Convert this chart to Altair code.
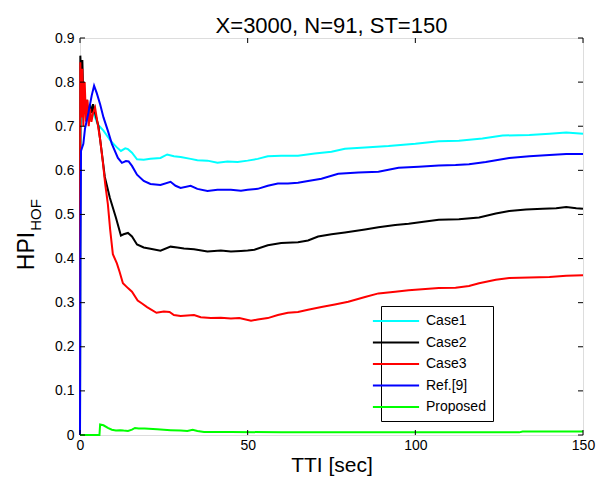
import altair as alt
import pandas as pd

# ---------------- data ----------------
names = ["Case1", "Case2", "Case3", " Ref.[9]", "Proposed"]
colors = ["#00FFFF", "#000000", "#FF0000", "#0000FF", "#00FF00"]

tti_case1 = [0, 0.2, 0.6, 0.9, 1.5, 2.2, 3.0, 4.0, 5.3, 7, 9.2, 11, 12.2, 13.5, 14.3, 15.5, 17, 19, 21, 24,
             26, 28, 30, 33, 35, 38, 41, 44, 47, 50, 53, 56, 60, 65, 70, 75, 79, 85, 92, 100,
             107, 113, 120, 126, 134, 140, 145, 148, 150]
val_case1 = [0, 0.70, 0.72, 0.718, 0.756, 0.73, 0.745, 0.73, 0.704, 0.69, 0.666, 0.652, 0.644, 0.65, 0.648, 0.64, 0.625, 0.624, 0.626, 0.628,
             0.636, 0.632, 0.63, 0.626, 0.623, 0.622, 0.617, 0.62, 0.619, 0.622, 0.626, 0.632, 0.633, 0.633, 0.638, 0.642, 0.649, 0.652, 0.655, 0.66,
             0.666, 0.667, 0.672, 0.679, 0.68, 0.683, 0.686, 0.684, 0.683]

tti_case2 = [0, 0.1, 0.4, 0.7, 1.0, 1.3, 1.7, 2.1, 2.5, 3.0, 3.5, 3.9, 4.5, 5.5, 6.5, 7.4, 8.9, 10.7, 12.2, 13,
             14.3, 15.5, 17, 19, 21, 24, 27, 29, 31, 34, 38, 42, 45, 48, 50, 52, 56, 60, 65, 68,
             71, 75, 79, 85, 89, 94, 98, 103, 107, 113, 119, 124, 128, 133, 138, 142, 145, 148, 150]
val_case2 = [0, 0.86, 0.80, 0.85, 0.76, 0.78, 0.73, 0.76, 0.72, 0.75, 0.73, 0.75, 0.73, 0.70, 0.64, 0.585, 0.538, 0.493, 0.452, 0.455,
             0.458, 0.45, 0.432, 0.425, 0.422, 0.418, 0.427, 0.425, 0.423, 0.421, 0.416, 0.418, 0.416, 0.417, 0.418, 0.42, 0.43, 0.435, 0.437, 0.441,
             0.45, 0.455, 0.459, 0.466, 0.471, 0.476, 0.479, 0.484, 0.488, 0.489, 0.493, 0.502, 0.508, 0.511, 0.513, 0.514, 0.517, 0.514, 0.513]

tti_case3 = [0, 0.1, 0.4, 0.7, 1.0, 1.4, 1.8, 2.2, 2.6, 3.0, 3.4, 3.9, 4.5, 5.3, 6.0, 6.8, 7.5, 8.3, 9.0, 9.8,
             11.0, 11.8, 12.8, 14.3, 15.5, 17.2, 18.5, 20, 22.8, 25, 26.7, 28, 30, 32, 34, 36, 39, 42, 45, 47.5,
             51, 53, 56, 59, 62, 65, 68, 72, 76, 80, 85, 89, 94, 98, 103, 107, 112, 116, 119, 124,
             128, 134, 140, 145, 150]
val_case3 = [0, 0.845, 0.72, 0.83, 0.70, 0.80, 0.71, 0.76, 0.70, 0.74, 0.71, 0.73, 0.742, 0.704, 0.67, 0.62, 0.57, 0.524, 0.465, 0.41,
             0.389, 0.37, 0.344, 0.333, 0.325, 0.305, 0.298, 0.29, 0.277, 0.28, 0.279, 0.272, 0.27, 0.271, 0.272, 0.267, 0.265, 0.266, 0.264, 0.265,
             0.259, 0.262, 0.265, 0.272, 0.277, 0.279, 0.284, 0.29, 0.296, 0.302, 0.313, 0.321, 0.325, 0.328, 0.331, 0.333, 0.334, 0.338, 0.344, 0.352,
             0.356, 0.357, 0.358, 0.361, 0.362]

tti_ref9 = [0, 0.1, 0.3, 1.0, 1.5, 2.5, 3.5, 4.2, 5, 6, 7, 8.3, 9.5, 11.3, 12.5, 13.7, 14.5, 15.5, 17, 19,
            21, 24, 27, 28.5, 30, 33, 35, 38, 41, 45, 48, 50, 53, 56, 59, 62, 65, 68, 72, 77,
            83, 89, 95, 101, 107, 112, 116, 121, 128, 134, 140, 145, 150]
val_ref9 = [0, 0.39, 0.644, 0.66, 0.695, 0.73, 0.77, 0.792, 0.775, 0.75, 0.72, 0.69, 0.66, 0.628, 0.617, 0.621, 0.62, 0.61, 0.59, 0.576,
            0.569, 0.567, 0.574, 0.565, 0.56, 0.565, 0.558, 0.553, 0.556, 0.556, 0.554, 0.556, 0.558, 0.565, 0.57, 0.57, 0.572, 0.576, 0.581, 0.592,
            0.595, 0.597, 0.606, 0.608, 0.611, 0.612, 0.614, 0.619, 0.628, 0.632, 0.635, 0.637, 0.637]

tti_prop = [0, 5.8, 6.0, 7, 8.3, 9.5, 10.7, 12, 13, 14.3, 15.5, 16.4, 17.5, 19.3, 23, 27, 30, 32, 33.6, 35,
            37, 45, 60, 80, 100, 120, 131, 132, 150]
val_prop = [0, 0, 0.024, 0.022, 0.016, 0.012, 0.01, 0.011, 0.01, 0.009, 0.012, 0.016, 0.015, 0.015, 0.013, 0.011, 0.01, 0.009, 0.012, 0.009,
            0.007, 0.007, 0.006, 0.006, 0.006, 0.006, 0.006, 0.008, 0.008]

x_ticks = [0, 50, 100, 150]
y_ticks = [0, 0.1, 0.2, 0.3, 0.4, 0.5, 0.6, 0.7, 0.8, 0.9]

title_text = "X=3000, N=91, ST=150"
x_title = "TTI [sec]"

# ---------------- table ----------------
rows = []
for name, xs, ys in zip(names,
                        [tti_case1, tti_case2, tti_case3, tti_ref9, tti_prop],
                        [val_case1, val_case2, val_case3, val_ref9, val_prop]):
    for i, (xv, yv) in enumerate(zip(xs, ys)):
        rows.append({"series": name, "tti": xv, "hpi": yv, "idx": i})
df = pd.DataFrame(rows)

W, H = 503, 397
FONT = "Liberation Sans"

xscale = alt.Scale(domain=[0, 150], nice=False, zero=False)
yscale = alt.Scale(domain=[0, 0.9], nice=False)

lines = alt.Chart(df).mark_line(strokeWidth=2).encode(
    x=alt.X("tti:Q", scale=xscale,
            axis=alt.Axis(values=x_ticks, title=x_title, grid=False, domain=False, ticks=False,
                          labelPadding=3, labelFontSize=14, labelColor="black", labelFont=FONT,
                          titleFontSize=21, titleFont=FONT, titleFontWeight="normal", titleColor="black",
                          titlePadding=2, labelFlush=False)),
    y=alt.Y("hpi:Q", scale=yscale,
            axis=alt.Axis(values=y_ticks, format="~g", title=None, grid=False, domain=False, ticks=False,
                          labelPadding=6, labelFontSize=14, labelColor="black", labelFont=FONT,
                          labelFlush=False)),
    color=alt.Color("series:N", scale=alt.Scale(domain=names, range=colors),
                    legend=alt.Legend(title=None, orient="none", legendX=301, legendY=268,
                                      strokeColor="black", fillColor="white", padding=7,
                                      labelFontSize=14, labelFont=FONT, labelColor="black",
                                      symbolType="M-3.3,0H3.3", symbolSize=196, symbolStrokeWidth=2,
                                      labelOffset=22, rowPadding=6.5)),
    order="idx:Q",
)

xt = pd.DataFrame({"tti": x_ticks})
yt = pd.DataFrame({"hpi": y_ticks})
tb = alt.Chart(xt).mark_rule(color="black", strokeWidth=1).encode(
    x=alt.X("tti:Q", scale=xscale), y=alt.value(H), y2=alt.value(H - 5))
tt = alt.Chart(xt).mark_rule(color="black", strokeWidth=1).encode(
    x=alt.X("tti:Q", scale=xscale), y=alt.value(0), y2=alt.value(5))
tl = alt.Chart(yt).mark_rule(color="black", strokeWidth=1).encode(
    y=alt.Y("hpi:Q", scale=yscale), x=alt.value(0), x2=alt.value(5))
tr = alt.Chart(yt).mark_rule(color="black", strokeWidth=1).encode(
    y=alt.Y("hpi:Q", scale=yscale), x=alt.value(W), x2=alt.value(W - 5))

one = pd.DataFrame({"a": [0]})
ylab_main = alt.Chart(one).mark_text(angle=270, fontSize=23, font=FONT, color="black",
                                     align="center", baseline="middle").encode(
    text=alt.value("HPI"), x=alt.value(-53), y=alt.value(213))
ylab_sub = alt.Chart(one).mark_text(angle=270, fontSize=15, font=FONT, color="black",
                                    align="center", baseline="middle").encode(
    text=alt.value("HOF"), x=alt.value(-44), y=alt.value(177))

chart = alt.layer(lines, tb, tt, tl, tr, ylab_main, ylab_sub).properties(
    width=W, height=H,
    title=alt.TitleParams(title_text, fontSize=22, font=FONT, fontWeight="normal", color="black",
                          anchor="middle", frame="group", offset=6, dy=13),
    autosize=alt.AutoSizeParams(type="none"),
    padding={"left": 80, "top": 38, "right": 27, "bottom": 50},
).configure_view(stroke="black", strokeWidth=1).configure(background="white")

chart.save("out.html", embed_options={"renderer": "svg", "actions": False})
